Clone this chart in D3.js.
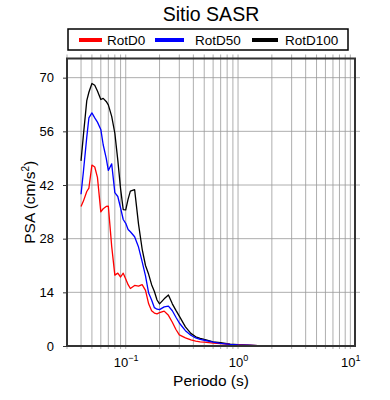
<!DOCTYPE html>
<html>
<head>
<meta charset="utf-8">
<script src="https://cdn.jsdelivr.net/npm/d3@7"></script>
<style>
  body { margin: 0; background: #fff; }
  svg { font-family: "Liberation Sans", Arial, Helvetica, sans-serif; }
</style>
</head>
<body>
<div id="chart"></div>
<script>
// periods (s)
var periods = [0.040, 0.042, 0.045, 0.047, 0.050, 0.053, 0.056, 0.060, 0.063, 0.067,
  0.070, 0.075, 0.080, 0.085, 0.090, 0.095, 0.100, 0.105, 0.110, 0.120,
  0.130, 0.140, 0.150, 0.160, 0.170, 0.180, 0.190, 0.200, 0.220, 0.240,
  0.260, 0.280, 0.300, 0.340, 0.380, 0.420, 0.460, 0.500, 0.600, 0.700,
  0.850, 1.0, 1.2, 1.5, 2.0, 3.0, 4.0, 5.0, 7.5, 10.0];

var rotD0 = [36.4, 37.8, 40.3, 41.2, 47.2, 46.7, 44.0, 35.0, 35.8, 36.4,
  36.5, 26.0, 18.5, 19.0, 18.0, 19.0, 17.5, 16.0, 15.0, 15.8,
  15.6, 16.0, 14.5, 11.0, 9.2, 8.6, 8.4, 8.7, 9.1, 8.0,
  6.2, 4.3, 2.9, 2.1, 1.6, 1.3, 1.1, 1.0, 0.75, 0.6,
  0.4, 0.3, 0.2, 0.12, 0.06, 0.03, 0.02, 0.015, 0.01, 0.01];

var rotD50 = [39.6, 45.5, 54.5, 59.5, 60.8, 59.5, 58.4, 56.5, 52.5, 49.0,
  45.8, 47.5, 40.0, 39.0, 36.0, 33.0, 32.0, 30.4, 29.8, 28.5,
  25.8, 22.0, 18.3, 13.8, 12.0, 10.0, 9.6, 9.5, 10.2, 10.4,
  9.2, 7.5, 6.0, 4.0, 2.8, 2.1, 1.7, 1.5, 1.0, 0.7,
  0.45, 0.3, 0.2, 0.1, 0.05, 0.03, 0.02, 0.015, 0.01, 0.01];

var rotD100 = [48.3, 55.0, 64.0, 66.2, 68.5, 68.0, 66.5, 64.3, 64.6, 63.8,
  62.9, 59.9, 55.5, 48.5, 41.0, 35.6, 35.5, 38.3, 40.4, 40.8,
  31.8, 25.3, 21.0, 18.7, 16.0, 14.2, 12.0, 11.0, 12.3, 13.3,
  11.0, 9.3, 7.8, 5.0, 3.3, 2.4, 2.0, 1.7, 1.1, 0.85,
  0.5, 0.35, 0.25, 0.12, 0.06, 0.03, 0.02, 0.015, 0.01, 0.01];

var seriesNames = ["RotD0", "RotD50", "RotD100"];
var seriesColors = ["#ff0000", "#0000ff", "#000000"];
var seriesValues = [rotD0, rotD50, rotD100];

var yTicks = [0, 14, 28, 42, 56, 70];
var xTicks = [0.1, 1, 10];
var xTickExp = ["\u22121", "0", "1"];

var width = 390;
var height = 400;
var plotLeft = 67, plotRight = 355, plotTop = 58.5, plotBottom = 346;

var svg = d3.select("#chart")
  .append("svg")
  .attr("width", width)
  .attr("height", height);

var xScale = d3.scaleLog()
  .domain([0.03, 11])
  .range([plotLeft, plotRight]);

var yScale = d3.scaleLinear()
  .domain([0, 75])
  .range([plotBottom, plotTop]);

// grid lines: 1..9 x each decade
var gridX = [];
[0.01, 0.1, 1, 10].forEach(function (dec) {
  for (var k = 1; k <= 9; k++) {
    var v = +(k * dec).toPrecision(3);
    if (v >= 0.03 && v <= 11) gridX.push(v);
  }
});

svg.append("g")
  .selectAll("line")
  .data(gridX)
  .enter()
  .append("line")
  .attr("x1", function (d) { return xScale(d); })
  .attr("x2", function (d) { return xScale(d); })
  .attr("y1", plotTop - 4)
  .attr("y2", plotBottom + 3)
  .attr("stroke", "#999")
  .attr("stroke-width", 0.8);

svg.append("g")
  .selectAll("line")
  .data(yTicks.slice(1))
  .enter()
  .append("line")
  .attr("x1", plotLeft)
  .attr("x2", plotRight + 5)
  .attr("y1", function (d) { return yScale(d); })
  .attr("y2", function (d) { return yScale(d); })
  .attr("stroke", "#999")
  .attr("stroke-width", 0.8);

// curves
var line = d3.line()
  .x(function (d) { return xScale(d[0]); })
  .y(function (d) { return yScale(d[1]); });

[2, 0, 1].forEach(function (i) {
  svg.append("path")
    .datum(periods.map(function (p, j) { return [p, seriesValues[i][j]]; }))
    .attr("fill", "none")
    .attr("stroke", seriesColors[i])
    .attr("stroke-width", 1.3)
    .attr("stroke-linejoin", "round")
    .attr("d", line);
});

// frame
svg.append("rect")
  .attr("x", plotLeft)
  .attr("y", plotTop)
  .attr("width", plotRight - plotLeft)
  .attr("height", plotBottom - plotTop)
  .attr("fill", "none")
  .attr("stroke", "#333")
  .attr("stroke-width", 2);

// y axis
var yAxis = svg.append("g")
  .attr("transform", "translate(" + plotLeft + ",0)")
  .call(d3.axisLeft(yScale).tickValues(yTicks).tickSize(4).tickPadding(9));
yAxis.select(".domain").remove();
yAxis.selectAll(".tick line").attr("stroke", "#333");
yAxis.selectAll(".tick text")
  .attr("font-size", "13px")
  .attr("font-family", "Liberation Sans, Arial, sans-serif")
  .attr("fill", "#000");

// x axis with 10^n labels
var xAxis = svg.append("g")
  .attr("transform", "translate(0," + plotBottom + ")")
  .call(d3.axisBottom(xScale).tickValues(xTicks).tickSize(0).tickFormat(""));
xAxis.select(".domain").remove();
xAxis.selectAll(".tick text").each(function (d, i) {
  var t = d3.select(this)
    .attr("y", 21)
    .attr("dy", 0)
    .attr("font-size", "13px")
    .attr("font-family", "Liberation Sans, Arial, sans-serif")
    .attr("fill", "#000");
  t.append("tspan").text("10");
  t.append("tspan")
    .attr("dy", -6)
    .attr("font-size", "9px")
    .text(xTickExp[i]);
});

// axis titles
svg.append("text")
  .attr("x", (plotLeft + plotRight) / 2)
  .attr("y", 386)
  .attr("text-anchor", "middle")
  .attr("font-size", "15.5px")
  .text("Periodo (s)");

var yTitle = svg.append("text")
  .attr("transform", "translate(35," + ((plotTop + plotBottom) / 2) + ") rotate(-90)")
  .attr("text-anchor", "middle")
  .attr("font-size", "15.5px");
yTitle.append("tspan").text("PSA (cm/s");
yTitle.append("tspan").attr("dy", -6).attr("font-size", "10px").text("2");
yTitle.append("tspan").attr("dy", 6).text(")");

// title
svg.append("text")
  .attr("x", 211)
  .attr("y", 21)
  .attr("text-anchor", "middle")
  .attr("font-size", "19.5px")
  .text("Sitio SASR");

// legend
var legendLayout = [
  { sx: 79, sw: 23, tx: 107 },
  { sx: 155, sw: 29, tx: 195 },
  { sx: 252, sw: 26, tx: 285 }
];

svg.append("rect")
  .attr("x", 68)
  .attr("y", 29)
  .attr("width", 280)
  .attr("height", 21)
  .attr("fill", "#fff")
  .attr("stroke", "#000")
  .attr("stroke-width", 1.5);

var legend = svg.append("g").attr("class", "legend");

legend.selectAll("line")
  .data(seriesNames)
  .enter()
  .append("line")
  .attr("x1", function (d, i) { return legendLayout[i].sx; })
  .attr("x2", function (d, i) { return legendLayout[i].sx + legendLayout[i].sw; })
  .attr("y1", 40)
  .attr("y2", 40)
  .attr("stroke", function (d, i) { return seriesColors[i]; })
  .attr("stroke-width", 4);

legend.selectAll("text")
  .data(seriesNames)
  .enter()
  .append("text")
  .attr("x", function (d, i) { return legendLayout[i].tx; })
  .attr("y", 45)
  .attr("font-size", "13.5px")
  .text(function (d) { return d; });
</script>
</body>
</html>
